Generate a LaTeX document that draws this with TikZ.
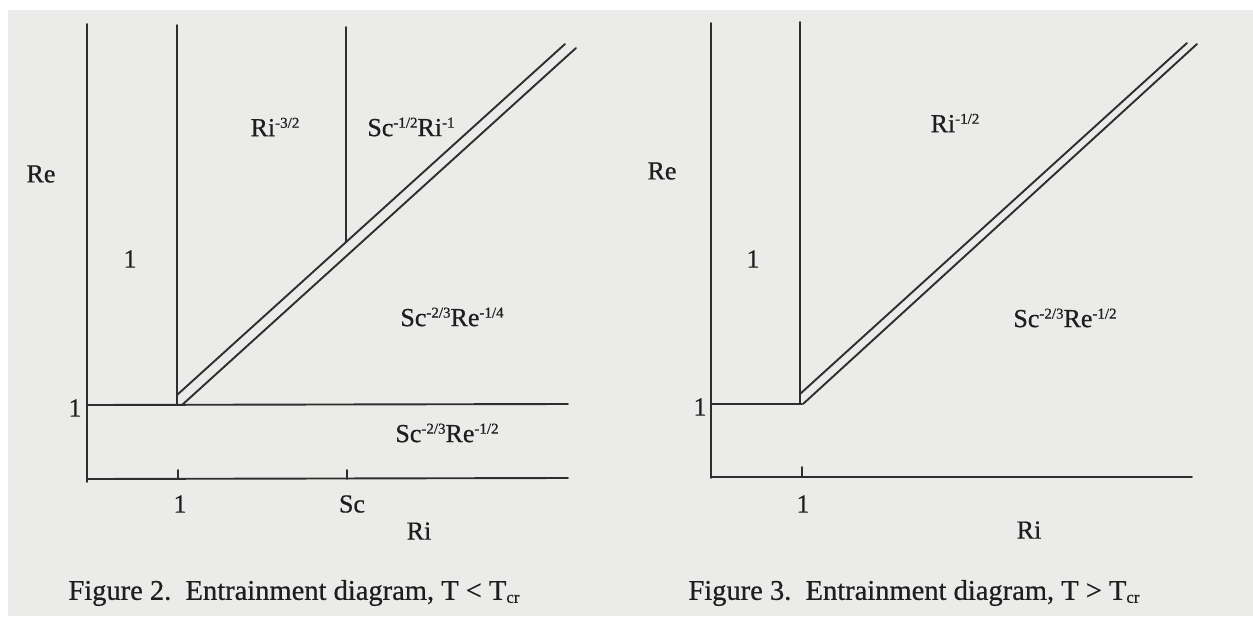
\documentclass[tikz,border=0pt]{standalone}
\usepackage{fontspec}
\setmainfont{Liberation Serif}[UprightFeatures={FakeBold=0.6}]
\definecolor{paper}{HTML}{EBEBEA}
\definecolor{ink}{HTML}{1E1E1E}
\definecolor{linec}{HTML}{2E2E2E}
\newcommand{\supx}[1]{\raisebox{8.5pt}{\fontsize{15}{15}\selectfont #1}}
\newcommand{\subx}[1]{\raisebox{-3pt}{\fontsize{17}{17}\selectfont #1}}
\begin{document}
\begin{tikzpicture}[x=1pt,y=-1pt,
  lbl/.style={inner sep=0pt,text=ink,font=\fontsize{26}{30}\selectfont},
  captext/.style={inner sep=0pt,text=ink,font=\fontsize{28.5}{32}\selectfont},
  ln/.style={draw=linec,line width=1.9pt,line cap=round}]
\useasboundingbox (0,0) rectangle (1253,621);
\fill[white] (0,0) rectangle (1253,621);
\fill[paper] (8,10) rectangle (1253,616);
% ---------- Figure 2 ----------
\coordinate (a2t) at (87,24);
\coordinate (a2b) at (87,482);
\coordinate (x2l) at (87,479);
\coordinate (x2r) at (568,478);
\coordinate (h2l) at (87,405);
\coordinate (h2r) at (568,404);
\coordinate (v21t) at (177,25);
\coordinate (v21b) at (177,405);
\coordinate (v22t) at (346,27);
\coordinate (v22b) at (346,242);
\coordinate (d2us) at (177,395);
\coordinate (d2ue) at (565,44);
\coordinate (d2ls) at (182,405);
\coordinate (d2le) at (576,48);
\coordinate (t21t) at (178,470);
\coordinate (t21b) at (178,479);
\coordinate (t22t) at (347,470);
\coordinate (t22b) at (347,479);
\draw[ln] (a2t) -- (a2b);
\draw[ln] (x2l) -- (x2r);
\draw[ln] (h2l) -- (h2r);
\draw[ln] (v21t) -- (v21b);
\draw[ln] (v22t) -- (v22b);
\draw[ln] (d2us) -- (d2ue);
\draw[ln] (d2ls) -- (d2le);
\draw[ln] (t21t) -- (t21b);
\draw[ln] (t22t) -- (t22b);
\node[lbl] (re2) at (41,174) {Re};
\node[lbl] (one2a) at (130,259) {1};
\node[lbl] (ri32) at (275,127) {Ri\supx{-3/2}};
\node[lbl] (scri) at (411,127) {Sc\supx{-1/2}Ri\supx{-1}};
\node[lbl] (scre14) at (452,317) {Sc\supx{-2/3}Re\supx{-1/4}};
\node[lbl] (one2b) at (75,408) {1};
\node[lbl] (scre12a) at (447,433) {Sc\supx{-2/3}Re\supx{-1/2}};
\node[lbl] (one2c) at (180,504) {1};
\node[lbl] (sc2) at (352,504) {Sc};
\node[lbl] (ri2) at (419,531) {Ri};
\node[captext] (cap2) at (294,593) {Figure 2.\ \ Entrainment diagram, T {<} T\subx{cr}};
% ---------- Figure 3 ----------
\coordinate (a3t) at (711,23);
\coordinate (a3b) at (711,478);
\coordinate (x3l) at (711,477);
\coordinate (x3r) at (1192,477);
\coordinate (h3l) at (711,404);
\coordinate (h3r) at (802,404);
\coordinate (v31t) at (800,22);
\coordinate (v31b) at (800,404);
\coordinate (d3us) at (800,394);
\coordinate (d3ue) at (1187,43);
\coordinate (d3ls) at (803,404);
\coordinate (d3le) at (1197,44);
\coordinate (t31t) at (802,467);
\coordinate (t31b) at (802,477);
\draw[ln] (a3t) -- (a3b);
\draw[ln] (x3l) -- (x3r);
\draw[ln] (h3l) -- (h3r);
\draw[ln] (v31t) -- (v31b);
\draw[ln] (d3us) -- (d3ue);
\draw[ln] (d3ls) -- (d3le);
\draw[ln] (t31t) -- (t31b);
\node[lbl] (re3) at (662,171) {Re};
\node[lbl] (one3a) at (753,259) {1};
\node[lbl] (ri12) at (955,123) {Ri\supx{-1/2}};
\node[lbl] (scre12b) at (1065,318) {Sc\supx{-2/3}Re\supx{-1/2}};
\node[lbl] (one3b) at (700,407) {1};
\node[lbl] (one3c) at (803,504) {1};
\node[lbl] (ri3) at (1029,530) {Ri};
\node[captext] (cap3) at (914,593) {Figure 3.\ \ Entrainment diagram, T {>} T\subx{cr}};
\end{tikzpicture}
\end{document}
